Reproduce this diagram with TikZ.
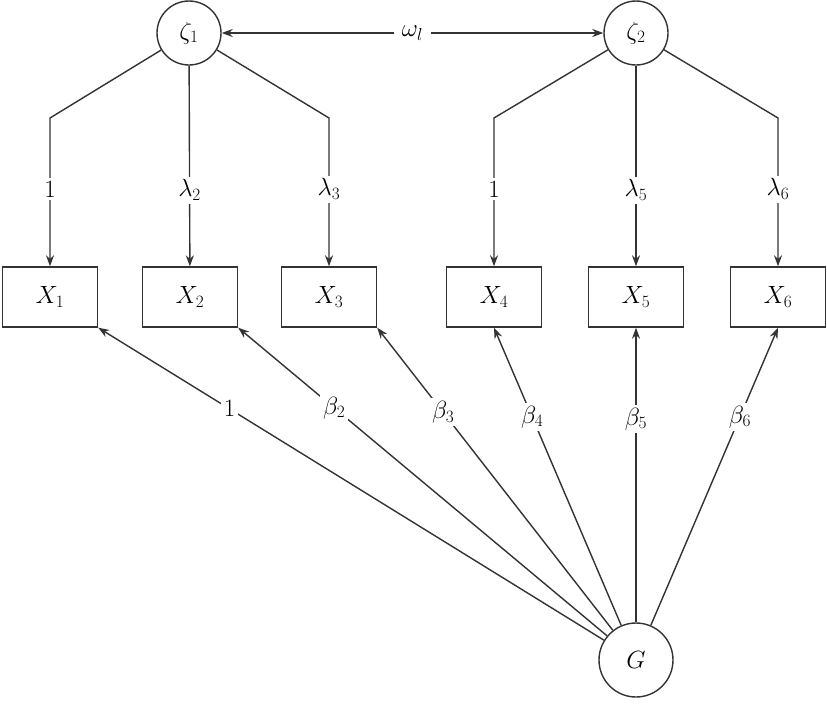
\documentclass[tikz,border=0pt]{standalone}
\usetikzlibrary{arrows.meta}
\begin{document}
\begin{tikzpicture}[x=1pt,y=-1pt,line width=1.4pt,draw=black!80,
  >={Stealth[length=11pt,width=8pt]},
  font=\fontsize{24}{28}\selectfont,
  lat/.style={circle,draw,minimum size=64pt,inner sep=0pt},
  obs/.style={rectangle,draw,minimum width=95pt,minimum height=60pt,inner sep=0pt},
  lbl/.style={fill=white,inner sep=3pt}]
\useasboundingbox (0,0) rectangle (827,707);
\node[lat] (z1) at (189,33) {$\zeta_1$};
\node[lat] (z2) at (636,33) {$\zeta_2$};
\node[lat,minimum size=74pt] (G) at (636,660) {$G$};
\node[obs] (X1) at (50,297) {$X_1$};
\node[obs] (X2) at (190,297) {$X_2$};
\node[obs] (X3) at (329,297) {$X_3$};
\node[obs] (X4) at (494,297) {$X_4$};
\node[obs] (X5) at (636,297) {$X_5$};
\node[obs] (X6) at (778,297) {$X_6$};
\coordinate (a1) at (50,118);
\coordinate (a3) at (329,118);
\coordinate (a4) at (494,118);
\coordinate (a6) at (778,118);
\draw[<->] (z1) -- node[lbl,inner xsep=8pt]{$\omega_l$} (z2);
\draw[->] (z1) -- (a1) -- node[lbl,pos=0.48]{$1$} (X1);
\draw[->] (z1) -- node[lbl,pos=0.62]{$\lambda_2$} (X2);
\draw[->] (z1) -- (a3) -- node[lbl,pos=0.48]{$\lambda_3$} (X3);
\draw[->] (z2) -- (a4) -- node[lbl,pos=0.48]{$1$} (X4);
\draw[->] (z2) -- node[lbl,pos=0.62]{$\lambda_5$} (X5);
\draw[->] (z2) -- (a6) -- node[lbl,pos=0.48]{$\lambda_6$} (X6);
\draw[->] (G) -- node[lbl,pos=0.74]{$1$} (X1.south east);
\draw[->] (G) -- node[lbl,pos=0.74]{$\beta_2$} (X2.south east);
\draw[->] (G) -- node[lbl,pos=0.72]{$\beta_3$} (X3.south east);
\draw[->] (G) -- node[lbl,pos=0.7]{$\beta_4$} (X4.south);
\draw[->] (G) -- node[lbl,pos=0.69]{$\beta_5$} (X5);
\draw[->] (G) -- node[lbl,pos=0.7]{$\beta_6$} (X6.south);
\end{tikzpicture}
\end{document}
